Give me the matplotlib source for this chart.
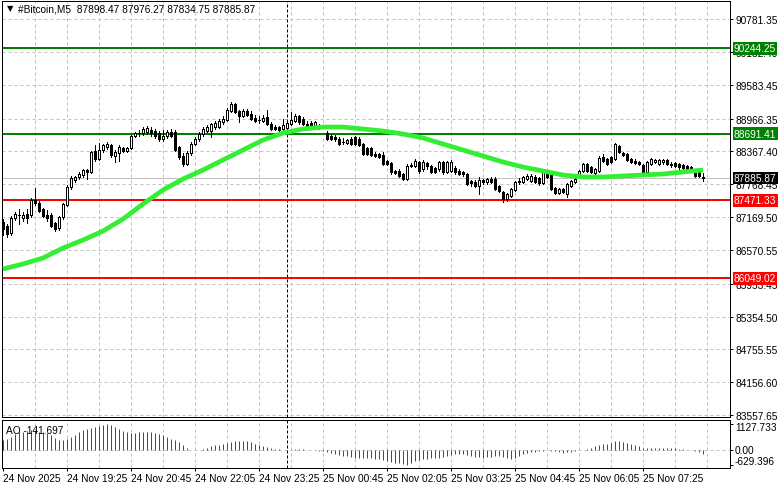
import numpy as np
import matplotlib
matplotlib.use('Agg')
import matplotlib.pyplot as plt

plt.rcParams['font.family'] = ['Liberation Sans', 'DejaVu Sans']

# ---- data (5-minute bars, 24 Nov 18:05 -> 25 Nov 08:40) ----
opens = [87078, 87005, 86878, 87151, 87206, 87151, 87224, 87206, 87480, 87425,
         87316, 87206, 87206, 87060, 86969, 87170, 87389, 87717, 87844, 87899,
         87936, 88027, 87990, 88374, 88228, 88392, 88447, 88483, 88282, 88337,
         88428, 88374, 88428, 88647, 88702, 88702, 88720, 88757, 88739, 88702,
         88593, 88647, 88720, 88720, 88447, 88282, 88136, 88337, 88501, 88593,
         88684, 88739, 88739, 88812, 88812, 88903, 88939, 89103, 89231, 89103,
         89012, 89103, 89049, 88976, 88939, 88921, 88994, 88866, 88812, 88812,
         88775, 88793, 88866, 88921, 89012, 88958, 88866, 88885, 88830, 88830,
         88812, 88702, 88647, 88629, 88593, 88538, 88520, 88593, 88629, 88593,
         88501, 88428, 88428, 88319, 88319, 88301, 88191, 88155, 88009, 88009,
         87954, 87863, 88100, 88100, 88173, 88045, 88155, 88100, 88063, 88045,
         88173, 87990, 88009, 88063, 88009, 87990, 87954, 87826, 87808, 87735,
         87844, 87808, 87863, 87863, 87735, 87626, 87498, 87553, 87662, 87808,
         87808, 87863, 87826, 87899, 87881, 87790, 87990, 87936, 87699, 87607,
         87680, 87589, 87735, 87808, 87917, 88009, 88136, 88082, 87972, 88009,
         88264, 88228, 88264, 88228, 88465, 88337, 88319, 88228, 88191, 88173,
         88118, 87990, 88136, 88173, 88136, 88173, 88209, 88136, 88155, 88136,
         88118, 88100, 88082, 87990, 87990, 87898.47]

highs = [87133, 87042, 87188, 87261, 87316, 87261, 87316, 87516, 87699, 87462,
         87334, 87297, 87243, 87078, 87188, 87425, 87753, 87917, 87917, 87990,
         88045, 88045, 88374, 88483, 88520, 88501, 88538, 88501, 88392, 88483,
         88447, 88447, 88666, 88720, 88757, 88812, 88830, 88812, 88775, 88739,
         88757, 88757, 88775, 88757, 88465, 88337, 88374, 88538, 88629, 88720,
         88812, 88848, 88885, 88921, 88958, 89012, 89158, 89267, 89249, 89122,
         89140, 89140, 89103, 89030, 89012, 89030, 89122, 88903, 88848, 88830,
         88958, 88939, 89085, 89049, 89030, 88994, 88921, 88921, 88921, 88866,
         88848, 88739, 88684, 88666, 88629, 88611, 88593, 88629, 88647, 88629,
         88520, 88447, 88447, 88355, 88337, 88355, 88209, 88173, 88027, 88045,
         87972, 88136, 88155, 88228, 88191, 88209, 88173, 88118, 88082, 88191,
         88191, 88191, 88209, 88100, 88045, 88009, 87972, 87844, 87844, 87899,
         87863, 87881, 87899, 87899, 87753, 87644, 87607, 87699, 87826, 87881,
         87917, 87954, 87954, 87936, 87899, 88027, 88009, 87954, 87717, 87699,
         87699, 87790, 87844, 87899, 88027, 88155, 88155, 88100, 88063, 88282,
         88319, 88246, 88282, 88520, 88483, 88355, 88337, 88246, 88228, 88191,
         88136, 88191, 88246, 88228, 88228, 88228, 88228, 88173, 88173, 88155,
         88136, 88118, 88100, 88009, 88009, 87976.27]

lows = [86841, 86805, 86841, 87115, 87042, 87097, 87060, 87170, 87389, 87261,
        87170, 87097, 86987, 86914, 86932, 87133, 87370, 87680, 87808, 87863,
        87899, 87863, 87972, 88191, 88209, 88355, 88410, 88264, 88173, 88191,
        88355, 88355, 88410, 88629, 88647, 88666, 88684, 88647, 88611, 88556,
        88556, 88611, 88629, 88374, 88228, 88100, 88118, 88301, 88483, 88556,
        88647, 88720, 88629, 88775, 88793, 88866, 88921, 89085, 89067, 88903,
        88994, 89012, 88939, 88903, 88885, 88903, 88848, 88757, 88757, 88739,
        88757, 88775, 88848, 88903, 88866, 88848, 88793, 88793, 88812, 88775,
        88793, 88574, 88574, 88556, 88483, 88501, 88501, 88483, 88483, 88465,
        88301, 88301, 88282, 88264, 88246, 88118, 88118, 87954, 87954, 87899,
        87844, 87844, 88082, 88082, 87972, 88009, 88045, 87972, 87972, 88009,
        87954, 87972, 87990, 87954, 87936, 87917, 87753, 87735, 87717, 87589,
        87772, 87772, 87790, 87662, 87626, 87443, 87462, 87534, 87644, 87772,
        87790, 87844, 87808, 87790, 87753, 87772, 87881, 87662, 87589, 87589,
        87607, 87534, 87717, 87790, 87899, 87990, 87990, 87972, 87954, 87990,
        88173, 88118, 88155, 88209, 88337, 88282, 88191, 88155, 88136, 88118,
        87972, 87972, 88118, 88155, 88118, 88136, 88118, 88082, 88082, 88045,
        88045, 88009, 87990, 87899, 87899, 87834.75]

closes = [86951, 86859, 87151, 87224, 87200, 87206, 87151, 87480, 87425, 87279,
          87188, 87151, 87005, 86951, 87170, 87407, 87717, 87881, 87899, 87954,
          88027, 87990, 88355, 88228, 88392, 88483, 88501, 88301, 88355, 88447,
          88374, 88428, 88647, 88702, 88695, 88775, 88793, 88702, 88647, 88593,
          88647, 88720, 88647, 88392, 88264, 88136, 88337, 88501, 88593, 88684,
          88775, 88812, 88866, 88885, 88921, 88958, 89122, 89231, 89085, 89012,
          89103, 89030, 88958, 88921, 88930, 88976, 88866, 88775, 88775, 88757,
          88848, 88885, 88939, 89012, 88903, 88866, 88812, 88812, 88903, 88812,
          88805, 88593, 88593, 88593, 88501, 88530, 88574, 88501, 88501, 88483,
          88319, 88319, 88301, 88282, 88264, 88136, 88136, 87990, 87972, 87917,
          87863, 88100, 88118, 88191, 88009, 88173, 88100, 87990, 87990, 88173,
          87990, 88173, 88173, 87990, 87954, 87954, 87772, 87790, 87735, 87844,
          87808, 87863, 87808, 87680, 87644, 87498, 87589, 87680, 87808, 87826,
          87899, 87917, 87917, 87808, 87790, 87990, 87899, 87680, 87607, 87680,
          87626, 87772, 87826, 87863, 88009, 88136, 88009, 87990, 88045, 88246,
          88191, 88136, 88173, 88501, 88355, 88301, 88209, 88173, 88155, 88136,
          87990, 88173, 88228, 88209, 88209, 88209, 88136, 88118, 88100, 88082,
          88063, 88027, 88009, 87917, 87917, 87885.87]

# moving average, read every 5 bars
ma_idx = list(range(0, 176, 5))
ma_vals = [86221, 86313, 86422, 86604, 86750, 86914, 87133, 87407, 87662, 87863,
           88027, 88210, 88392, 88574, 88702, 88775, 88811, 88811, 88775, 88738,
           88684, 88611, 88501, 88392, 88282, 88173, 88082, 88009, 87936, 87899,
           87899, 87918, 87936, 87954, 87991, 88027]

# Awesome Oscillator
ao = [463, 506, 579, 723, 781, 800, 839, 868, 845, 810,
      790, 752, 651, 550, 463, 434, 506, 579, 651, 796,
      868, 940, 984, 1013, 1070, 1100, 1127.733, 1085, 1013, 940,
      840, 796, 752, 770, 790, 805, 815, 790, 752, 694,
      651, 579, 506, 463, 362, 217, 116, 29, 10, 29,
      72, 116, 174, 217, 246, 260, 318, 362, 405, 410,
      415, 400, 362, 289, 217, 174, 145, 116, 72, 58,
      29, 5, 29, 43, 45, 47, 30, 3, -5, -14,
      -43, -87, -116, -174, -217, -260, -265, -289, -318, -320,
      -322, -325, -333, -362, -376, -434, -463, -506, -550, -564,
      -579, -629.396, -550, -478, -434, -391, -362, -347, -333, -318,
      -289, -246, -188, -174, -160, -150, -217, -260, -289, -304,
      -333, -304, -275, -260, -246, -275, -318, -362, -318, -260,
      -174, -116, -72, -58, -29, -14, -5, -14, -29, -72,
      -101, -87, -58, -29, 5, 29, 72, 116, 174, 217,
      260, 289, 333, 405, 400, 376, 333, 289, 217, 174,
      116, 85, 92, 100, 108, 112, 115, 100, 80, 60,
      40, 20, 5, -40, -95, -141.697]

# horizontal levels (value, colour)
levels = [(90244.25, '#008000'), (88691.41, '#008000'),
          (87471.33, '#ff0000'), (86049.02, '#ff0000')]
last_price = 87885.87

price_ticks = [90781.35, 90182.40, 89583.45, 88966.35, 88367.40, 87768.45, 87169.50,
               86570.55, 85953.45, 85354.50, 84755.55, 84156.60, 83557.65]
ao_ticks = [1127.733, 0.0, -629.396]
ao_tick_labels = ['1127.733', '0.00', '-629.396']

time_bars = [0, 16, 32, 48, 64, 80, 96, 112, 128, 144, 160]
time_labels = ['24 Nov 2025', '24 Nov 19:25', '24 Nov 20:45', '24 Nov 22:05',
               '24 Nov 23:25', '25 Nov 00:45', '25 Nov 02:05', '25 Nov 03:25',
               '25 Nov 04:45', '25 Nov 06:05', '25 Nov 07:25']
day_sep_bar = 71  # 25 Nov 00:00
header = '#Bitcoin,M5  87898.47 87976.27 87834.75 87885.87'

o = np.array(opens, float)
h = np.array(highs, float)
l = np.array(lows, float)
c = np.array(closes, float)
ao = np.array(ao, float)
idx = np.arange(len(c))

# ---- figure ----
W, H = 781, 489
fig = plt.figure(figsize=(W / 100, H / 100), dpi=100)


def px_rect(x0, y0, x1, y1):
    return [x0 / W, 1 - y1 / H, (x1 - x0) / W, (y1 - y0) / H]


ax = fig.add_axes(px_rect(2, 2, 730, 418))
ax_ao = fig.add_axes(px_rect(2, 421, 730, 469), sharex=ax)

fs = 7.3
px = 0.72  # one pixel in points
grid_kw = dict(color='#c0c0c0', lw=px, ls=(0, (3, 3)), zorder=0)

ax.set_xlim(-0.25, 181.75)
ax.set_ylim(83521.83, 91109.67)
ax_ao.set_ylim(-768, 1315)

# grid
for b in range(8, 182, 8):
    ax.axvline(b, **grid_kw)
    ax_ao.axvline(b, **grid_kw)
for p in price_ticks:
    ax.axhline(p, **grid_kw)
ax_ao.axhline(0, **grid_kw)

# day separator
for a in (ax, ax_ao):
    a.axvline(day_sep_bar, color='black', lw=px, ls=(0, (3, 2)), zorder=1)

# bid line
ax.axhline(last_price, color='#c0c0c0', lw=px, zorder=1)

# levels
for val, col in levels:
    ax.axhline(val, color=col, lw=2 * px, zorder=2)

# candles
ax.vlines(idx, l, h, color='black', lw=px, zorder=3, antialiased=False)
face = np.where(c >= o, 'white', 'black')
ax.bar(idx, np.abs(c - o), bottom=np.minimum(o, c), width=0.5, color=face,
       edgecolor='black', linewidth=px, zorder=4, antialiased=False)

# moving average
ax.plot(ma_idx, ma_vals, color='#33ee33', lw=3.4, zorder=5, solid_capstyle='butt')

# AO histogram
ao_col = np.where(np.diff(np.r_[ao[0] - 1, ao]) > 0, '#008000', '#ff0000')
ax_ao.vlines(idx, 0, ao, colors=ao_col, lw=px, zorder=3)

# axes styling
for a in (ax, ax_ao):
    for s in a.spines.values():
        s.set_color('black')
        s.set_linewidth(px)
    a.yaxis.tick_right()
    a.set_facecolor('white')

ax.set_yticks(price_ticks)
ax.set_yticklabels([f'{p:.2f}' for p in price_ticks])
ax.tick_params(axis='y', length=3 * px, width=px, pad=1.5, labelsize=fs)
ax.tick_params(axis='x', bottom=False, labelbottom=False)

ax_ao.set_yticks(ao_ticks)
ax_ao.set_yticklabels([])
ax_ao.tick_params(axis='y', length=3 * px, width=px)
# label shift in pixels (down positive) so the labels sit as on the terminal
for v, lab, dy in zip(ao_ticks, ao_tick_labels, (3, 0, -4)):
    ax_ao.annotate(lab, xy=(1, v), xycoords=('axes fraction', 'data'),
                   xytext=(5, -dy), textcoords='offset pixels', va='center',
                   ha='left', fontsize=fs, annotation_clip=False)

ax_ao.set_xticks(time_bars)
ax_ao.set_xticklabels(time_labels, ha='left')
ax_ao.tick_params(axis='x', length=3 * px, width=px, pad=1.5, labelsize=fs)

# price boxes on the right scale
boxes = levels + [(last_price, 'black')]
for val, col in boxes:
    ax.annotate(f'{val:.2f}', xy=(1, val), xycoords=('axes fraction', 'data'),
                xytext=(4, 0), textcoords='offset pixels', va='center', ha='left',
                fontsize=fs, color='white', zorder=10, annotation_clip=False,
                bbox=dict(boxstyle='square,pad=0.12', fc=col, ec='none'))

# texts
ax_ao.text(4 / 728, 38 / 48, f'AO {ao[-1]:.3f}', transform=ax_ao.transAxes,
           fontsize=fs, va='center', ha='left', zorder=10)
fig.text(10 / W, 1 - 9 / H, '\u25bc', fontsize=6, ha='center', va='center',
         family='DejaVu Sans')
fig.text(18 / W, 1 - 10 / H, header, fontsize=fs, ha='left', va='center')

fig.savefig('out.png', dpi=100, facecolor='white')
